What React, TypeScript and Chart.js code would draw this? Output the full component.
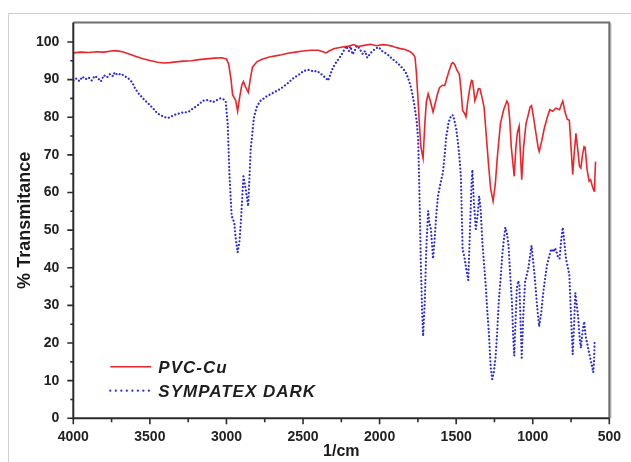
import React, { useEffect, useRef } from "react";
import { Chart, registerables } from "chart.js";

Chart.register(...registerables);

// ---- Data (wavenumber in 1/cm, % transmittance) ----
const pvcWavenumbers = [
  4000, 3950, 3900, 3850, 3800, 3750, 3720, 3680, 3640, 3600, 3550, 3500, 3450, 3410, 3370, 3330, 3280, 3230, 3180, 3130,
  3080, 3030, 3000, 2985, 2970, 2960, 2950, 2940, 2927, 2915, 2900, 2889, 2875, 2857, 2845, 2830, 2800, 2767, 2720, 2680,
  2640, 2600, 2550, 2500, 2450, 2400, 2370, 2350, 2330, 2300, 2252, 2200, 2170, 2140, 2100, 2060, 2020, 1980, 1950, 1920,
  1898, 1870, 1834, 1800, 1782, 1769, 1760, 1750, 1740, 1730, 1716, 1705, 1695, 1683, 1670, 1651, 1635, 1620, 1608, 1590,
  1575, 1560, 1545, 1530, 1522, 1510, 1495, 1479, 1468, 1458, 1445, 1436, 1425, 1410, 1400, 1394, 1385, 1378, 1365, 1355,
  1344, 1330, 1318, 1305, 1290, 1275, 1259, 1245, 1230, 1211, 1190, 1169, 1160, 1150, 1140, 1121, 1110, 1100, 1089, 1080,
  1072, 1060, 1044, 1030, 1018, 1008, 995, 980, 965, 958, 945, 925, 905, 889, 870, 850, 825, 815, 804, 790,
  775, 761, 750, 739, 730, 718, 705, 695, 686, 675, 665, 658, 645, 632, 622, 610, 600, 596, 590,
];
const pvcValues = [
  97.1, 97.3, 97.2, 97.4, 97.3, 97.6, 97.7, 97.4, 96.9, 96.3, 95.6, 95.1, 94.6, 94.4, 94.5, 94.7, 94.9, 95.0, 95.3, 95.5,
  95.7, 95.8, 95.5, 94.0, 90.0, 86.0, 85.2, 84.5, 81.6, 85.0, 88.5, 89.5, 88.0, 86.6, 90.0, 93.3, 94.8, 95.4, 96.0, 96.3,
  96.6, 97.0, 97.3, 97.6, 97.8, 97.8, 97.4, 97.1, 97.6, 98.2, 98.6, 98.9, 99.3, 98.8, 99.1, 99.4, 99.0, 99.3, 99.2, 98.9,
  98.6, 98.3, 98.0, 97.4, 96.8, 96.0, 92.0, 85.3, 78.0, 72.0, 69.1, 78.0, 84.0, 86.2, 84.5, 81.4, 84.0, 86.5, 87.9, 88.5,
  88.4, 90.5, 92.5, 94.2, 94.5, 94.0, 92.5, 91.4, 87.0, 81.8, 81.0, 80.1, 84.0, 88.0, 89.8, 89.7, 87.0, 84.4, 86.0, 87.6,
  87.5, 85.0, 82.7, 76.0, 68.0, 61.0, 57.7, 62.0, 70.0, 78.3, 82.0, 84.3, 83.5, 79.2, 72.0, 64.3, 72.0, 76.0, 77.6, 70.0,
  63.4, 72.0, 78.3, 80.5, 82.7, 83.1, 80.0, 76.0, 72.0, 70.9, 73.0, 77.0, 80.0, 82.0, 81.6, 82.4, 82.0, 83.2, 84.3, 81.5,
  79.5, 79.2, 72.0, 64.8, 70.0, 75.7, 71.0, 67.0, 66.5, 70.0, 72.2, 72.0, 66.0, 63.0, 63.4, 61.5, 60.4, 62.0, 68.2,
];

const sympatexWavenumbers = [
  4000, 3980, 3960, 3940, 3920, 3900, 3880, 3860, 3840, 3820, 3800, 3780, 3760, 3740, 3731, 3710, 3690, 3667, 3640, 3616,
  3595, 3571, 3540, 3507, 3480, 3450, 3430, 3410, 3380, 3346, 3320, 3290, 3249, 3220, 3190, 3153, 3120, 3088, 3060, 3040,
  3024, 3005, 2992, 2981, 2966, 2949, 2940, 2927, 2915, 2906, 2889, 2874, 2858, 2842, 2820, 2800, 2777, 2740, 2691, 2650,
  2606, 2560, 2520, 2498, 2460, 2430, 2412, 2390, 2369, 2350, 2337, 2320, 2305, 2280, 2262, 2240, 2219, 2200, 2190, 2176,
  2160, 2150, 2134, 2110, 2095, 2080, 2060, 2040, 2026, 2005, 1983, 1960, 1940, 1920, 1898, 1870, 1850, 1834, 1815, 1801,
  1790, 1774, 1758, 1748, 1740, 1730, 1722, 1716, 1705, 1695, 1683, 1675, 1665, 1651, 1640, 1630, 1619, 1605, 1587, 1575,
  1565, 1550, 1533, 1520, 1512, 1500, 1490, 1480, 1469, 1458, 1447, 1436, 1421, 1410, 1400, 1394, 1385, 1372, 1360, 1350,
  1340, 1329, 1318, 1307, 1296, 1286, 1275, 1265, 1255, 1243, 1232, 1222, 1210, 1201, 1190, 1179, 1168, 1158, 1147, 1136,
  1128, 1121, 1112, 1104, 1095, 1087, 1080, 1072, 1062, 1050, 1040, 1029, 1018, 1008, 998, 986, 972, 958, 945, 933,
  920, 907, 893, 879, 865, 856, 847, 836, 825, 815, 804, 794, 783, 770, 761, 750, 739, 730, 722, 712,
  703, 695, 686, 675, 664, 655, 643, 630, 616, 605, 600, 596,
];
const sympatexValues = [
  89.7, 90.3, 89.6, 90.8, 90.1, 90.6, 89.8, 91.0, 90.4, 89.5, 91.2, 90.6, 91.5, 90.9, 91.9, 91.2, 91.6, 91.0, 90.3, 89.3,
  87.5, 86.2, 84.8, 83.5, 82.4, 81.0, 80.6, 80.1, 79.8, 80.5, 80.9, 81.2, 81.4, 82.3, 83.1, 84.4, 84.6, 84.0, 84.6, 85.0,
  84.9, 84.3, 78.3, 65.2, 53.8, 52.0, 48.0, 44.1, 47.0, 52.0, 64.3, 60.8, 56.4, 71.3, 80.1, 83.0, 84.4, 85.5, 86.6, 87.5,
  88.8, 90.5, 91.5, 92.3, 92.6, 92.1, 92.3, 91.8, 91.0, 90.4, 89.7, 91.5, 93.2, 94.8, 95.8, 97.2, 98.9, 97.6, 98.8, 96.7,
  97.9, 99.0, 98.4, 96.8, 97.6, 95.8, 97.0, 97.8, 98.3, 98.6, 97.6, 97.0, 96.4, 95.6, 94.9, 93.9, 93.0, 92.3, 90.5, 88.8,
  87.0, 83.5, 79.0, 73.9, 60.0, 40.0, 28.0, 21.8, 31.0, 45.0, 55.1, 52.0, 50.3, 42.4, 48.0, 54.0, 59.0, 62.0, 65.2, 70.0,
  74.8, 78.5, 80.5, 80.5, 79.2, 77.0, 73.9, 70.0, 64.0, 45.0, 43.0, 40.2, 36.7, 50.0, 62.0, 66.0, 58.0, 50.3, 54.0, 59.0,
  55.5, 46.8, 41.0, 35.4, 28.0, 22.3, 14.0, 10.4, 12.0, 16.1, 23.0, 31.0, 37.0, 42.4, 47.0, 50.7, 49.0, 45.9, 38.0, 31.0,
  22.0, 16.6, 26.0, 34.5, 36.5, 35.4, 26.0, 16.1, 27.0, 36.3, 38.0, 39.8, 43.0, 45.9, 42.0, 37.1, 30.0, 24.4, 28.0, 32.8,
  37.0, 40.7, 43.0, 45.0, 44.2, 45.2, 44.6, 43.0, 42.4, 47.0, 50.7, 47.0, 42.4, 40.0, 38.0, 27.0, 17.0, 25.0, 33.3, 30.0,
  26.6, 22.0, 18.7, 23.0, 25.7, 22.0, 19.6, 17.0, 14.4, 12.2, 15.0, 20.5,
];

const seriesLabels = ["PVC-Cu", "SYMPATEX DARK"];
const xTickValues = [4000, 3500, 3000, 2500, 2000, 1500, 1000, 500];
const yTickValues = [0, 10, 20, 30, 40, 50, 60, 70, 80, 90, 100];
const xTitle = "1/cm";
const yTitle = "% Transmitance";

const RED = "#e8262c";
const BLUE = "#2a2ad8";

const toPoints = (xs: number[], ys: number[]) => xs.map((x, i) => ({ x, y: ys[i] }));

const framePlugin = {
  id: "framePlugin",
  beforeDraw(chart: any) {
    const { ctx, width, height } = chart;
    ctx.save();
    ctx.fillStyle = "#ffffff";
    ctx.fillRect(0, 0, width, height);
    // outer image frame
    ctx.strokeStyle = "#cfcfcf";
    ctx.lineWidth = 1;
    ctx.beginPath();
    ctx.moveTo(8.5, height);
    ctx.lineTo(8.5, 13.5);
    ctx.lineTo(width, 13.5);
    ctx.stroke();
    ctx.restore();
  },
  afterDraw(chart: any) {
    const { ctx, chartArea } = chart;
    const { left, right, top, bottom } = chartArea;
    const xs = chart.scales.x;
    const ys = chart.scales.y;
    ctx.save();
    // top & right frame
    ctx.strokeStyle = "#6e6e6e";
    ctx.lineWidth = 2;
    ctx.beginPath();
    ctx.moveTo(left, top);
    ctx.lineTo(right, top);
    ctx.lineTo(right, bottom);
    ctx.stroke();
    ctx.strokeStyle = "#9a9a9a";
    ctx.lineWidth = 1;
    ctx.beginPath();
    ctx.moveTo(right + 1.5, top + 1);
    ctx.lineTo(right + 1.5, bottom);
    ctx.stroke();
    // left & bottom axes
    ctx.strokeStyle = "#2b2b2b";
    ctx.lineWidth = 2;
    ctx.beginPath();
    ctx.moveTo(left, top);
    ctx.lineTo(left, bottom);
    ctx.lineTo(right, bottom);
    ctx.stroke();
    // ticks
    ctx.lineWidth = 1.6;
    ctx.beginPath();
    for (let v = 0; v <= 100; v += 5) {
      const y = ys.getPixelForValue(v);
      const len = v % 10 === 0 ? 6 : 3;
      ctx.moveTo(left, y);
      ctx.lineTo(left - len, y);
    }
    for (let v = 500; v <= 4000; v += 250) {
      const x = xs.getPixelForValue(v);
      const len = v % 500 === 0 ? 6 : 4;
      ctx.moveTo(x, bottom);
      ctx.lineTo(x, bottom + len);
    }
    ctx.stroke();
    ctx.restore();
  },
  afterDatasetsDraw(chart: any) {
    const { ctx, chartArea } = chart;
    const { left, bottom } = chartArea;
    const items = chart.data.datasets;
    ctx.save();
    items.forEach((ds: any, i: number) => {
      const y = bottom - 51.6 + i * 24;
      ctx.strokeStyle = ds.borderColor;
      ctx.lineWidth = i === 0 ? 1.6 : 2.2;
      ctx.setLineDash(i === 0 ? [] : [0.01, 5.5]);
      ctx.lineCap = i === 0 ? "butt" : "round";
      ctx.beginPath();
      ctx.moveTo(left + 37, y);
      ctx.lineTo(left + 78, y);
      ctx.stroke();
      ctx.setLineDash([]);
      ctx.fillStyle = "#1e1e1e";
      ctx.font = "italic bold 17px 'Liberation Sans', Arial, sans-serif";
      (ctx as any).letterSpacing = "1px";
      ctx.textBaseline = "alphabetic";
      ctx.textAlign = "left";
      ctx.fillText(ds.label, left + 85, y + 6.3);
    });
    ctx.restore();
  },
};

export default function App() {
  const canvasRef = useRef<HTMLCanvasElement | null>(null);

  useEffect(() => {
    if (!canvasRef.current) return;
    const chart = new Chart(canvasRef.current, {
      type: "line",
      data: {
        datasets: [
          {
            label: seriesLabels[0],
            data: toPoints(pvcWavenumbers, pvcValues),
            borderColor: RED,
            borderWidth: 1.6,
            pointRadius: 0,
            tension: 0,
            fill: false,
          },
          {
            label: seriesLabels[1],
            data: toPoints(sympatexWavenumbers, sympatexValues),
            borderColor: BLUE,
            borderWidth: 2.2,
            borderDash: [0.01, 3.6],
            borderCapStyle: "round",
            pointRadius: 0,
            tension: 0,
            fill: false,
          },
        ],
      },
      options: {
        animation: false,
        responsive: false,
        maintainAspectRatio: false,
        parsing: true,
        layout: { padding: { top: 18, right: 14, left: 0, bottom: 0 } },
        plugins: {
          legend: { display: false },
          tooltip: { enabled: false },
        },
        scales: {
          x: {
            type: "linear",
            min: 500,
            max: 4000,
            reverse: true,
            afterBuildTicks: (s: any) => {
              s.ticks = xTickValues.map((v) => ({ value: v }));
            },
            afterFit: (s: any) => {
              s.height = 43.7;
            },
            grid: { display: false, drawTicks: false },
            border: { display: false },
            ticks: {
              autoSkip: false,
              maxRotation: 0,
              padding: 10,
              color: "#222",
              callback: (v: any) => String(v),
              font: { family: "'Liberation Sans', Arial, sans-serif", size: 14, weight: "bold" },
            },
            title: {
              display: true,
              text: xTitle,
              color: "#1a1a1a",
              padding: { top: 0, bottom: 1 },
              font: { family: "'Liberation Sans', Arial, sans-serif", size: 16, weight: "bold" },
            },
          },
          y: {
            type: "linear",
            min: 0,
            max: 105.2,
            afterBuildTicks: (s: any) => {
              s.ticks = yTickValues.map((v) => ({ value: v }));
            },
            afterFit: (s: any) => {
              s.width = 73.3;
            },
            grid: { display: false, drawTicks: false },
            border: { display: false },
            ticks: {
              autoSkip: false,
              padding: 14,
              color: "#222",
              callback: (v: any) => String(v),
              font: { family: "'Liberation Sans', Arial, sans-serif", size: 14, weight: "bold" },
            },
            title: {
              display: true,
              text: yTitle,
              color: "#1a1a1a",
              padding: { top: 14.7, bottom: 0 },
              font: { family: "'Liberation Sans', Arial, sans-serif", size: 18, weight: "bold" },
            },
          },
        },
      },
      plugins: [framePlugin],
    } as any);
    return () => chart.destroy();
  }, []);

  return (
    <div style={{ position: "absolute", left: 0, top: 0, width: 631, height: 462, background: "#fff" }}>
      <canvas ref={canvasRef} width={631} height={462} style={{ width: 631, height: 462, display: "block" }} />
    </div>
  );
}
